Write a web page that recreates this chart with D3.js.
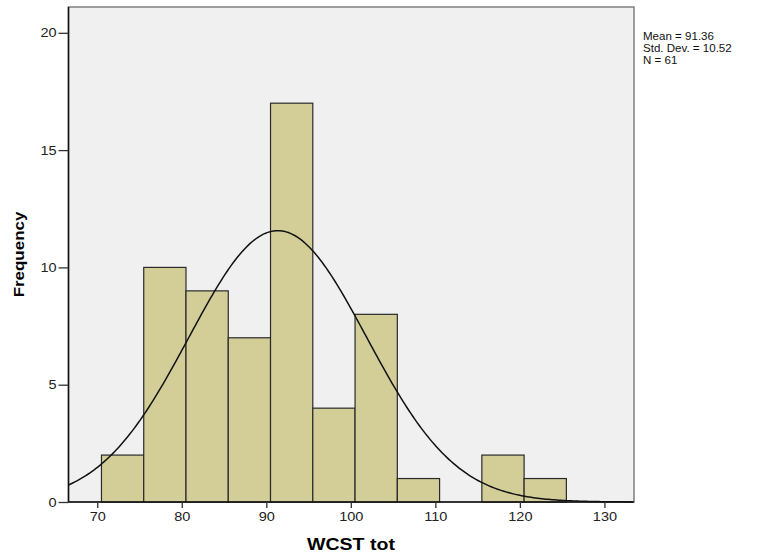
<!DOCTYPE html>
<html lang="en">
<head>
  <meta charset="UTF-8">
  <title>WCST tot histogram</title>
  <style>
    body, html { margin: 0; padding: 0; background: #fff; }
    svg { display: block; font-family: Arial, "Liberation Sans", sans-serif; }
  </style>
</head>
<body>
  <svg id="svg" width="760" height="558"></svg>
  <script src="https://cdn.jsdelivr.net/npm/d3@7"></script>
  <script>
    // bins of width 5 (lower edges), counts
    const binStarts = [70.5, 75.5, 80.5, 85.5, 90.5, 95.5, 100.5, 105.5, 110.5, 115.5, 120.5];
    const counts    = [2, 10, 9, 7, 17, 4, 8, 1, 0, 2, 1];
    const binWidth = 5;
    const xTicks = [70, 80, 90, 100, 110, 120, 130];
    const yTicks = [0, 5, 10, 15, 20];
    const mean = 91.36, sd = 10.52, n = 61;
    const statLines = ['Mean = 91.36', 'Std. Dev. = 10.52', 'N = 61'];

    const plot = { left: 68.5, right: 634, top: 7, bottom: 502 };
    const svg = d3.select('#svg');

    // the original export is a bit wider than plain Arial
    function stretch(sel, f) {
      sel.each(function () {
        const w = this.getComputedTextLength();
        d3.select(this).attr('textLength', w * f).attr('lengthAdjust', 'spacingAndGlyphs');
      });
    }

    const x = d3.scaleLinear().domain([66.6, 133.5]).range([plot.left, plot.right]);
    const y = d3.scaleLinear().domain([0, 21.1]).range([plot.bottom, plot.top]);

    svg.append('rect')
      .attr('x', plot.left).attr('y', plot.top)
      .attr('width', plot.right - plot.left).attr('height', plot.bottom - plot.top)
      .attr('fill', '#f0f0f0')
      .attr('stroke', '#7f7f7f').attr('stroke-width', 1.5);

    const data = binStarts.map((s, i) => ({ x0: s, x1: s + binWidth, c: counts[i] }))
      .filter(d => d.c > 0);

    svg.selectAll('.bar')
      .data(data)
      .enter()
      .append('rect')
      .attr('class', 'bar')
      .attr('x', d => x(d.x0))
      .attr('y', d => y(d.c))
      .attr('width', d => x(d.x1) - x(d.x0))
      .attr('height', d => y(0) - y(d.c))
      .attr('fill', '#d3ce98')
      .attr('stroke', '#2a2a2a')
      .attr('stroke-width', 1.2);

    // fitted normal curve from the stated mean, sd and N
    const pdf = v => n * binWidth / (sd * Math.sqrt(2 * Math.PI)) * Math.exp(-0.5 * ((v - mean) / sd) ** 2);
    const xs = d3.range(x.domain()[0], x.domain()[1] + 0.01, 0.25);
    svg.append('path')
      .datum(xs)
      .attr('fill', 'none')
      .attr('stroke', '#111')
      .attr('stroke-width', 1.5)
      .attr('d', d3.line().x(v => x(v)).y(v => y(pdf(v))));

    // axes
    const yAxis = svg.append('g')
      .attr('transform', `translate(${plot.left},0)`)
      .call(d3.axisLeft(y).tickValues(yTicks).tickSize(10).tickPadding(2));
    const xAxis = svg.append('g')
      .attr('transform', `translate(0,${plot.bottom})`)
      .call(d3.axisBottom(x).tickValues(xTicks).tickSize(6).tickPadding(4));

    [xAxis, yAxis].forEach(g => {
      g.select('.domain').attr('stroke', '#111').attr('stroke-width', 1.5);
      g.selectAll('.tick line').attr('stroke', '#333').attr('stroke-width', 1.3);
      g.selectAll('text').attr('fill', '#222').style('font-size', '12.5px')
        .style('font-family', 'Arial, "Liberation Sans", sans-serif')
        .call(stretch, 1.16);
    });
    xAxis.select('.domain').attr('d', `M${plot.left},0H${plot.right}`);
    yAxis.select('.domain').attr('d', `M0,${plot.bottom}V${plot.top}`);

    svg.append('text')
      .attr('x', 351).attr('y', 550)
      .attr('text-anchor', 'middle')
      .style('font-size', '16px').style('font-weight', 'bold')
      .text('WCST tot')
      .call(stretch, 1.22);

    svg.append('text')
      .attr('transform', 'translate(24,254.5) rotate(-90)')
      .attr('text-anchor', 'middle')
      .style('font-size', '15px').style('font-weight', 'bold')
      .text('Frequency')
      .call(stretch, 1.13);

    svg.append('g').selectAll('text')
      .data(statLines)
      .enter()
      .append('text')
      .attr('x', 643)
      .attr('y', (d, i) => 40 + i * 12.2)
      .style('font-size', '10.5px')
      .attr('fill', '#111')
      .text(d => d)
      .call(stretch, 1.1);
  </script>
</body>
</html>
